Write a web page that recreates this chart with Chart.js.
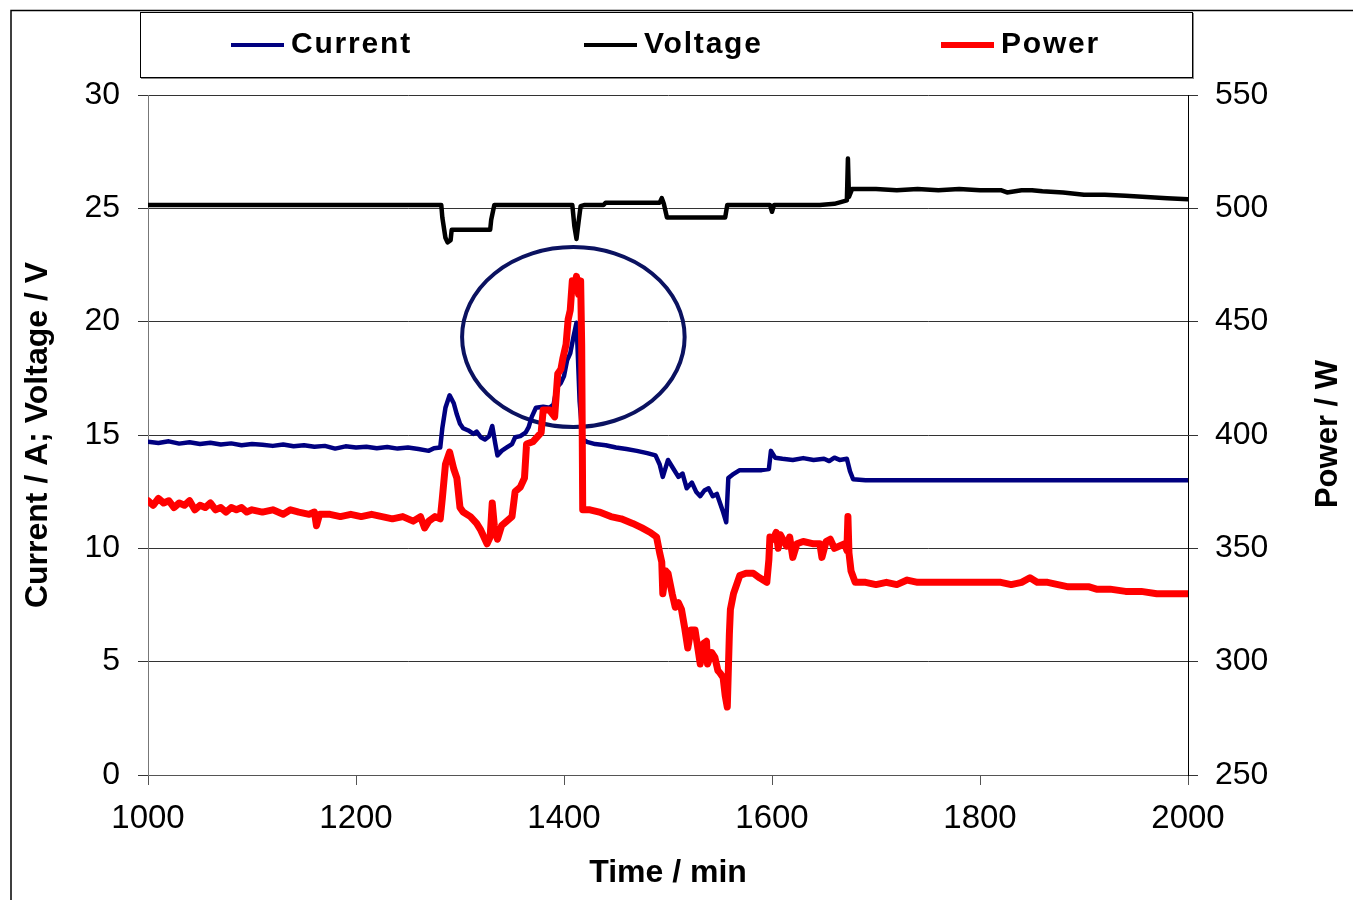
<!DOCTYPE html>
<html>
<head>
<meta charset="utf-8">
<script src="https://cdn.jsdelivr.net/npm/chart.js@4/dist/chart.umd.min.js"></script>
<style>
    body { margin: 0; background: #fff; }
    #wrap { position: relative; width: 1353px; height: 900px; }
    #chart { position: absolute; left: 0; top: 0; }
    #legend { position: absolute; left: 140px; top: 12px; width: 1051px; height: 64px; border: 1px solid #000; box-shadow: 1px 1px 0 #888; font: bold 30px "Liberation Sans", Arial, sans-serif; letter-spacing: 1.8px; }
    .item { position: absolute; top: 0; height: 64px; line-height: 64px; }
    .item span { position: absolute; left: 0; top: 30px; width: 53px; }
    .item b { position: absolute; left: 60px; top: -2px; white-space: nowrap; }
</style>
</head>
<body>
<div id="wrap">
    <canvas id="chart" width="1353" height="900"></canvas>
    <div id="legend"></div>
</div>
<script>
// Time in minutes
const currentTime = [1000, 1010, 1020, 1030, 1040, 1050, 1060, 1070, 1080, 1090, 1100, 1110, 1120, 1130, 1140, 1150, 1160, 1170, 1180, 1190, 1200, 1210, 1220, 1230, 1240, 1250, 1260, 1270, 1275, 1281, 1283, 1286, 1290, 1294, 1297, 1300, 1303, 1308, 1313, 1316, 1320, 1324, 1328, 1331, 1334, 1336, 1340, 1345, 1350, 1353, 1358, 1363, 1366, 1369, 1373, 1380, 1386, 1390, 1393, 1397, 1400, 1403, 1406, 1409, 1412, 1413, 1415, 1418, 1422, 1430, 1440, 1450, 1460, 1470, 1480, 1488, 1492, 1495, 1500, 1504, 1510, 1514, 1518, 1523, 1527, 1531, 1535, 1539, 1543, 1547, 1550, 1553, 1556, 1558, 1562, 1569, 1580, 1590, 1597, 1599, 1603, 1610, 1620, 1630, 1640, 1650, 1655, 1660, 1665, 1672, 1675, 1678, 1690, 2000];
const currentValues = [14.70, 14.65, 14.72, 14.62, 14.68, 14.60, 14.66, 14.58, 14.63, 14.55, 14.60, 14.57, 14.52, 14.58, 14.50, 14.55, 14.48, 14.52, 14.40, 14.50, 14.45, 14.48, 14.42, 14.47, 14.40, 14.45, 14.38, 14.30, 14.42, 14.45, 15.3, 16.2, 16.75, 16.4, 15.9, 15.5, 15.3, 15.2, 15.05, 15.15, 14.9, 14.8, 14.95, 15.4, 14.6, 14.1, 14.3, 14.45, 14.6, 14.9, 14.95, 15.1, 15.35, 15.8, 16.2, 16.25, 16.2, 16.35, 17.1, 17.3, 17.6, 18.3, 18.6, 19.3, 19.95, 18.9, 16.5, 14.8, 14.7, 14.6, 14.55, 14.45, 14.38, 14.3, 14.2, 14.1, 13.7, 13.15, 13.9, 13.6, 13.15, 13.3, 12.65, 12.9, 12.5, 12.3, 12.55, 12.65, 12.3, 12.4, 12.0, 11.6, 11.15, 13.1, 13.25, 13.45, 13.45, 13.45, 13.5, 14.3, 14.0, 13.95, 13.9, 13.98, 13.9, 13.95, 13.85, 14.0, 13.9, 13.95, 13.4, 13.05, 13.0, 13.0];

const voltageTime = [1000, 1282, 1283, 1286, 1288, 1291, 1292, 1310, 1329, 1330, 1333, 1408, 1410, 1412, 1414, 1416, 1420, 1438, 1440, 1492, 1494, 1496, 1499, 1555, 1557, 1598, 1600, 1602, 1646, 1660, 1672, 1673, 1674, 1677, 1700, 1720, 1740, 1760, 1780, 1800, 1820, 1826, 1840, 1850, 1860, 1880, 1900, 1920, 1940, 1960, 1980, 2000];
const voltageValues = [25.15, 25.15, 24.6, 23.7, 23.5, 23.6, 24.05, 24.05, 24.05, 24.5, 25.15, 25.15, 24.2, 23.65, 24.4, 25.1, 25.15, 25.15, 25.25, 25.25, 25.45, 25.2, 24.6, 24.6, 25.15, 25.15, 24.85, 25.15, 25.15, 25.2, 25.35, 27.2, 25.5, 25.85, 25.85, 25.8, 25.85, 25.8, 25.85, 25.8, 25.8, 25.7, 25.8, 25.8, 25.75, 25.7, 25.6, 25.6, 25.55, 25.5, 25.45, 25.4];

const powerTime = [1000, 1005, 1010, 1015, 1020, 1025, 1030, 1035, 1040, 1045, 1050, 1055, 1060, 1065, 1070, 1075, 1080, 1085, 1090, 1095, 1100, 1110, 1120, 1130, 1137, 1145, 1155, 1160, 1162, 1165, 1175, 1185, 1195, 1205, 1215, 1225, 1235, 1245, 1255, 1262, 1266, 1270, 1276, 1281, 1283, 1286, 1290, 1294, 1297, 1300, 1303, 1310, 1316, 1320, 1326, 1329, 1331, 1333, 1336, 1340, 1345, 1350, 1353, 1358, 1362, 1364, 1370, 1378, 1380, 1386, 1391, 1394, 1397, 1399, 1402, 1404, 1406, 1408, 1410, 1412, 1414, 1416, 1417, 1418, 1425, 1434, 1445, 1455, 1466, 1475, 1483, 1489, 1492, 1494, 1495, 1498, 1500, 1504, 1507, 1510, 1513, 1516, 1519, 1522, 1526, 1529, 1531, 1534, 1537, 1538, 1542, 1545, 1548, 1550, 1553, 1555, 1557, 1559, 1560, 1563, 1566, 1569, 1575, 1582, 1588, 1595, 1597, 1598, 1601, 1604, 1606, 1608, 1614, 1617, 1620, 1624, 1630, 1640, 1646, 1648, 1652, 1656, 1660, 1665, 1670, 1672, 1673, 1674, 1676, 1680, 1690, 1700, 1710, 1720, 1730, 1740, 1750, 1760, 1770, 1780, 1790, 1800, 1810, 1820, 1830, 1840, 1848, 1855, 1865, 1875, 1885, 1895, 1905, 1912, 1925, 1940, 1955, 1970, 1985, 2000];
const powerValues = [371, 369, 372, 370, 371, 368, 370, 369, 371, 367, 369, 368, 370, 367, 368, 366, 368, 367, 368, 366, 367, 366, 367, 365, 367, 366, 365, 366, 360, 365, 365, 364, 365, 364, 365, 364, 363, 364, 362, 364, 359, 362, 364, 363, 372, 387, 392.5, 385, 381, 368, 366, 364, 361, 358, 352, 355, 370, 360, 354, 360, 362, 364, 375, 377, 381, 396, 397, 401, 411, 411, 408, 427, 429, 434, 440, 451, 455, 468, 465, 470, 462, 468, 440, 367, 367, 366, 364, 363, 361, 359, 357, 355, 348, 344, 330, 340, 339, 330, 324, 326, 323, 315, 306, 314, 314, 305, 299, 308, 309, 299, 304, 302, 296, 295, 293, 285, 280, 312, 323, 330, 334, 338, 339, 339, 337, 335, 345, 355, 354, 357, 350, 356, 351, 355, 346, 352, 353, 352, 352, 346, 353, 354, 350, 351, 352, 349, 364, 348, 340, 335, 335, 334, 335, 334, 336, 335, 335, 335, 335, 335, 335, 335, 335, 335, 334, 335, 337, 335, 335, 334, 333, 333, 333, 332, 332, 331, 331, 330, 330, 330];

const leftTicks = [0, 5, 10, 15, 20, 25, 30];
const rightTicks = [250, 300, 350, 400, 450, 500, 550];
const timeTicks = [1000, 1200, 1400, 1600, 1800, 2000];

// highlighted region: centre (min, A) and half-widths (min, A)
const ellipseCenter = [1409, 19.32];
const ellipseRadius = [107, 3.97];

const seriesNames = ['Current', 'Voltage', 'Power'];
const seriesColors = ['#000080', '#000000', '#ff0000'];

const FONT = '"Liberation Sans", Arial, sans-serif';

function pairs(times, values) {
    return times.map((t, i) => ({ x: t, y: values[i] }));
}

// legend box, positioned like the original
const legendX = [90, 443, 800];
const legend = document.getElementById('legend');
seriesNames.forEach((name, i) => {
    const el = document.createElement('div');
    el.className = 'item';
    el.style.left = legendX[i] + 'px';
    const h = i === 2 ? 6 : 4;
    el.innerHTML = `<span style="height:${h}px; margin-top:${-h / 2 + 2}px; background:${seriesColors[i]}"></span><b>${name}</b>`;
    legend.appendChild(el);
});

const framePlugin = {
    id: 'frame',
    beforeDraw(chart) {
        const ctx = chart.ctx;
        ctx.save();
        ctx.strokeStyle = '#000';
        ctx.lineWidth = 1.5;
        ctx.beginPath();
        ctx.moveTo(11, 900);
        ctx.lineTo(11, 10.5);
        ctx.lineTo(1353, 10.5);
        ctx.stroke();
        ctx.restore();
    },
    beforeDatasetsDraw(chart) {
        const { ctx, scales } = chart;
        const cx = scales.x.getPixelForValue(ellipseCenter[0]);
        const cy = scales.y.getPixelForValue(ellipseCenter[1]);
        const rx = scales.x.getPixelForValue(ellipseCenter[0] + ellipseRadius[0]) - cx;
        const ry = cy - scales.y.getPixelForValue(ellipseCenter[1] + ellipseRadius[1]);
        ctx.save();
        ctx.strokeStyle = '#0b1260';
        ctx.lineWidth = 4;
        ctx.beginPath();
        ctx.ellipse(cx, cy, rx, ry, 0, 0, Math.PI * 2);
        ctx.stroke();
        ctx.restore();
    },
    afterDraw(chart) {
        // right axis title reads bottom-to-top in the original
        const ctx = chart.ctx;
        const area = chart.chartArea;
        ctx.save();
        ctx.translate(1328, (area.top + area.bottom) / 2 - 1);
        ctx.rotate(-Math.PI / 2);
        ctx.font = 'bold 31px ' + FONT;
        ctx.fillStyle = '#000';
        ctx.textAlign = 'center';
        ctx.textBaseline = 'middle';
        ctx.fillText('Power / W', 0, 0);
        ctx.restore();
    }
};

new Chart(document.getElementById('chart').getContext('2d'), {
    type: 'line',
    data: {
        datasets: [
            { label: seriesNames[0], data: pairs(currentTime, currentValues), borderColor: seriesColors[0], borderWidth: 4.5, yAxisID: 'y', order: 2 },
            { label: seriesNames[1], data: pairs(voltageTime, voltageValues), borderColor: seriesColors[1], borderWidth: 4.5, yAxisID: 'y', order: 1 },
            { label: seriesNames[2], data: pairs(powerTime, powerValues), borderColor: seriesColors[2], borderWidth: 7, yAxisID: 'y2', order: 0 }
        ]
    },
    options: {
        responsive: false,
        animation: false,
        layout: { padding: { top: 95, left: 0, right: 0, bottom: 0 } },
        elements: { point: { radius: 0 }, line: { tension: 0, borderJoinStyle: 'round', borderCapStyle: 'round' } },
        plugins: { legend: { display: false }, tooltip: { enabled: false } },
        scales: {
            x: {
                type: 'linear',
                min: 1000,
                max: 2000,
                afterFit: (s) => { s.height = 125; },
                afterBuildTicks: (s) => { s.ticks = timeTicks.map((v) => ({ value: v })); },
                grid: { drawOnChartArea: false, drawTicks: true, tickLength: 10, color: '#555' },
                border: { display: true, color: '#555' },
                ticks: { color: '#000', padding: 14, maxRotation: 0, callback: (v) => String(v), font: { family: FONT, size: 33 } },
                title: { display: true, text: 'Time / min', color: '#000', padding: { top: 0, bottom: 8 }, font: { family: FONT, size: 32, weight: 'bold' } }
            },
            y: {
                position: 'left',
                min: 0,
                max: 30,
                afterFit: (s) => { s.width = 148; },
                afterBuildTicks: (s) => { s.ticks = leftTicks.map((v) => ({ value: v })); },
                grid: { color: '#333', lineWidth: 1, tickLength: 10 },
                border: { display: true, color: '#777' },
                ticks: { color: '#000', padding: 18, font: { family: FONT, size: 32 } },
                title: { display: true, text: 'Current / A; Voltage / V', color: '#000', padding: { top: 19, bottom: 0 }, font: { family: FONT, size: 32, weight: 'bold' } }
            },
            y2: {
                position: 'right',
                min: 250,
                max: 550,
                afterFit: (s) => { s.width = 165; },
                afterBuildTicks: (s) => { s.ticks = rightTicks.map((v) => ({ value: v })); },
                grid: { drawOnChartArea: false, color: '#333', tickLength: 10 },
                border: { display: true, color: '#000' },
                ticks: { color: '#000', padding: 17, font: { family: FONT, size: 32 } }
            }
        }
    },
    plugins: [framePlugin]
});
</script>
</body>
</html>
